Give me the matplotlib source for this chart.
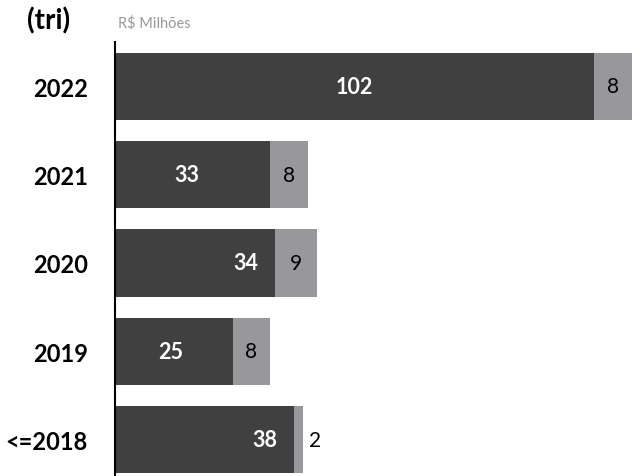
import matplotlib.pyplot as plt

plt.rcParams['font.family'] = ['Lato', 'DejaVu Sans']

# data
years = ['2022', '2021', '2020', '2019', '<=2018']
dark_vals = [102, 33, 34, 25, 38]
light_vals = [8, 8, 9, 8, 2]

# where the dark labels sit inside each bar (fraction of the dark segment)
dark_label_frac = [0.5, 0.46, 0.82, 0.47, 0.84]

dark_color = '#404040'
light_color = '#98989c'

fig = plt.figure(figsize=(6.32, 4.77), dpi=100)
ax = fig.add_axes([115 / 632, 0, 1 - 115 / 632, 1 - 43 / 477])

y = list(range(len(years)))
ax.barh(y, dark_vals, height=0.76, color=dark_color)
ax.barh(y, light_vals, left=dark_vals, height=0.76, color=light_color)

for i, (d, l) in enumerate(zip(dark_vals, light_vals)):
    ax.text(d * dark_label_frac[i], i, str(d), ha='center', va='center',
            color='white', fontsize=15.5, fontweight='bold')
    if l >= 5:
        lx = d + l / 2
    else:
        lx = d + l + 2.5
    ax.text(lx, i, str(l), ha='center', va='center', color='black', fontsize=15)

ax.set_xlim(0, 110)
ax.set_ylim(4.41, -0.5)
ax.set_yticks(y)
ax.set_yticklabels(years, fontsize=17, fontweight='bold')
ax.tick_params(axis='y', length=0, pad=19.5)
ax.set_xticks([])
for side in ['top', 'right', 'bottom']:
    ax.spines[side].set_visible(False)
ax.spines['left'].set_linewidth(1.5)
ax.spines['left'].set_color('black')

fig.text(27 / 632, 1 - 21 / 477, '(tri)', fontsize=20, fontweight='bold',
         ha='left', va='center')
fig.text(118 / 632, 1 - 23 / 477, 'R$ Milhões', fontsize=10.5, color='#999999',
         ha='left', va='center')

fig.savefig('out.png', dpi=100)
